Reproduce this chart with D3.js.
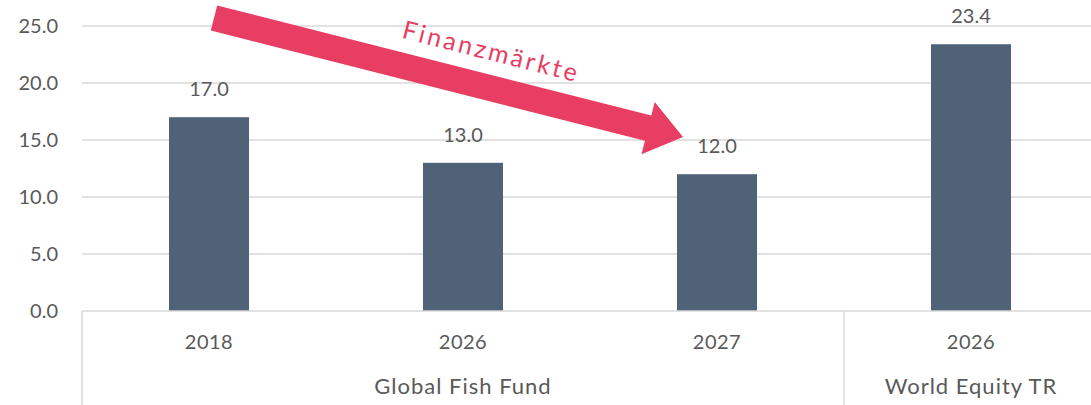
<!DOCTYPE html>
<html>
<head>
<meta charset="utf-8">
<script src="https://cdn.jsdelivr.net/npm/d3@7"></script>
<style>
	body { margin: 0; background: #fff; }
	svg text { font-family: Lato, "Open Sans", sans-serif; }
</style>
</head>
<body>
<div class="chart"></div>
<script>
// values
const years = ['2018', '2026', '2027', '2026'];
const groups = ['Global Fish Fund', 'Global Fish Fund', 'Global Fish Fund', 'World Equity TR'];
const values = [17.0, 13.0, 12.0, 23.4];
const yTicks = [0, 5, 10, 15, 20, 25];
const arrowLabel = 'Finanzmärkte';

const width = 1091, height = 405;
const margin = {top: 26, left: 82, bottom: 94};

const svg = d3.select('.chart').append('svg')
	.attr('width', width)
	.attr('height', height);

// index based band scale, since 2026 shows up twice
const x = d3.scaleBand()
	.domain(d3.range(values.length))
	.range([margin.left, margin.left + 254 * values.length])
	.paddingInner(0.685)
	.paddingOuter(0.3425);

const y = d3.scaleLinear()
	.domain([0, 25])
	.range([height - margin.bottom, margin.top]);

const textColor = '#595959';
const gridColor = '#d9d9d9';

// gridlines
svg.append('g')
		.attr('class', 'grid')
	.selectAll('line')
		.data(yTicks.filter(function(d){ return d > 0 }))
	.enter().append('line')
		.attr('x1', margin.left)
		.attr('x2', width)
		.attr('y1', function(d){ return y(d) })
		.attr('y2', function(d){ return y(d) })
		.style('stroke', gridColor)
		.style('stroke-width', 1.5);

// y labels
svg.append('g')
		.attr('class', 'ylabels')
	.selectAll('text')
		.data(yTicks)
	.enter().append('text')
		.attr('x', 58)
		.attr('y', function(d){ return y(d) + 7 })
		.style('text-anchor', 'end')
		.style('font-size', '20px')
		.style('fill', textColor)
		.text(function(d){ return d.toFixed(1) });

// bars
svg.append('g')
		.attr('class', 'bars')
	.selectAll('rect')
		.data(values)
	.enter().append('rect')
		.attr('x', function(d, i){ return x(i) })
		.attr('width', x.bandwidth())
		.attr('y', function(d){ return y(d) })
		.attr('height', function(d){ return y(0) - y(d) })
		.style('fill', '#506278');

// value labels
svg.append('g')
		.attr('class', 'values')
	.selectAll('text')
		.data(values)
	.enter().append('text')
		.attr('x', function(d, i){ return x(i) + x.bandwidth() / 2 })
		.attr('y', function(d){ return y(d) - 21 })
		.style('text-anchor', 'middle')
		.style('font-size', '20px')
		.style('fill', textColor)
		.text(function(d){ return d.toFixed(1) });

// category axis: baseline, group separators, labels
const step = x.step();
const left = x.range()[0];
svg.append('line')
	.attr('x1', margin.left).attr('x2', width)
	.attr('y1', y(0)).attr('y2', y(0))
	.style('stroke', gridColor)
	.style('stroke-width', 1.5);

// find where group changes
const groupSpans = [];
groups.forEach(function(g, i){
	const last = groupSpans[groupSpans.length - 1];
	if (last && last.name === g) last.end = i;
	else groupSpans.push({name: g, start: i, end: i});
});

svg.append('g')
		.attr('class', 'separators')
	.selectAll('line')
		.data(groupSpans)
	.enter().append('line')
		.attr('x1', function(d){ return left + d.start * step })
		.attr('x2', function(d){ return left + d.start * step })
		.attr('y1', y(0))
		.attr('y2', height)
		.style('stroke', gridColor)
		.style('stroke-width', 1.5);

svg.append('g')
		.attr('class', 'years')
	.selectAll('text')
		.data(years)
	.enter().append('text')
		.attr('x', function(d, i){ return x(i) + x.bandwidth() / 2 })
		.attr('y', y(0) + 38)
		.style('text-anchor', 'middle')
		.style('font-size', '20px')
		.style('letter-spacing', '0.5px')
		.style('fill', textColor)
		.text(function(d){ return d });

svg.append('g')
		.attr('class', 'groups')
	.selectAll('text')
		.data(groupSpans)
	.enter().append('text')
		.attr('x', function(d){ return left + (d.start + d.end + 1) / 2 * step })
		.attr('y', y(0) + 83)
		.style('text-anchor', 'middle')
		.style('font-size', '22px')
		.style('letter-spacing', '1px')
		.style('fill', textColor)
		.text(function(d){ return d.name });

// annotation arrow, from above the 2018 bar down to the 2027 bar
const pink = '#e83e64';
const start = [x(0) + x.bandwidth() / 2 + 5, y(25.7)];
const tip = [x(2) + x.bandwidth() / 2 - 34, y(15.26)];
const angle = Math.atan2(tip[1] - start[1], tip[0] - start[0]) * 180 / Math.PI;
const len = Math.hypot(tip[0] - start[0], tip[1] - start[1]);
const shaft = 13, head = 27, headLen = 36;

const arrow = svg.append('g')
	.attr('transform', 'translate(' + start[0] + ',' + start[1] + ') rotate(' + angle + ')');

arrow.append('path')
	.attr('d', 'M0,' + (-shaft) + ' L' + (len - headLen) + ',' + (-shaft) +
		' L' + (len - headLen) + ',' + (-head) + ' L' + len + ',0' +
		' L' + (len - headLen) + ',' + head + ' L' + (len - headLen) + ',' + shaft +
		' L0,' + shaft + ' Z')
	.style('fill', pink);

arrow.append('text')
	.attr('x', 186)
	.attr('y', -27)
	.style('font-size', '25px')
	.style('letter-spacing', '2.8px')
	.style('fill', pink)
	.text(arrowLabel);
</script>
</body>
</html>
